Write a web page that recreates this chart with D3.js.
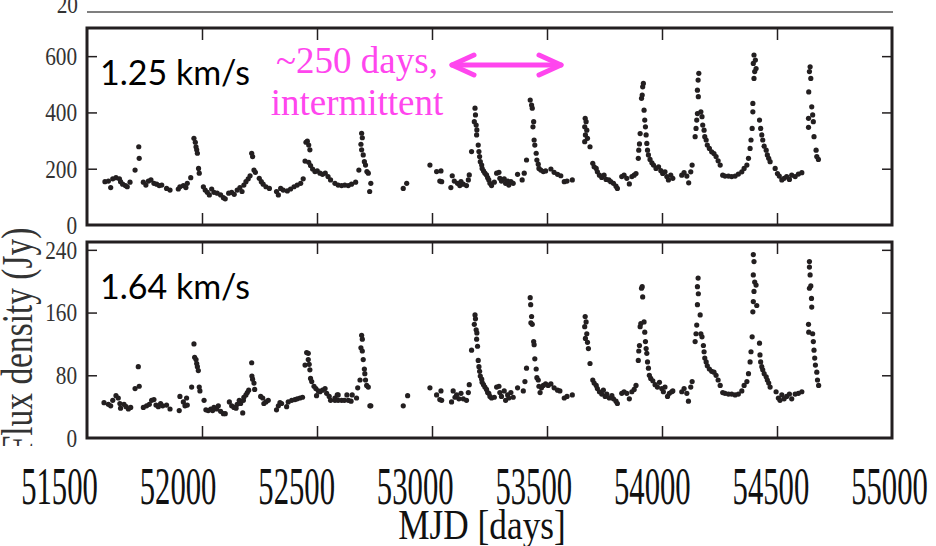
<!DOCTYPE html>
<html>
<head>
<meta charset="utf-8">
<script src="https://cdn.jsdelivr.net/npm/d3@7"></script>
<style>
  body { margin: 0; background: #fff; }
  svg { display: block; }
</style>
</head>
<body>
<div id="chart"></div>
<script>
// 1.25 km/s channel: [MJD, flux Jy]
const obs125 = [
  [51578,154],[51593,156],[51603,133],[51612,164],[51626,168],[51641,164],[51646,154],[51655,145],[51667,140],[51675,136],
  [51687,152],[51709,195],[51727,237],[51725,278],[51745,152],[51756,142],[51767,156],[51778,160],[51791,148],[51803,145],
  [51814,140],[51825,142],[51846,130],[51861,124],[51897,128],[51904,136],[51919,140],[51930,133],[51936,148],[51951,168],
  [51965,308],[51971,294],[51974,278],[51977,267],[51980,255],[51985,201],[51988,184],[52006,136],[52014,124],[52023,116],
  [52032,107],[52042,128],[52052,116],[52066,113],[52081,107],[52093,97],[52101,93],[52116,113],[52129,116],[52140,109],
  [52153,124],[52165,133],[52174,119],[52182,142],[52191,154],[52201,164],[52209,175],[52216,255],[52220,243],[52226,195],
  [52232,187],[52249,166],[52258,154],[52266,145],[52278,136],[52293,130],[52324,119],[52332,107],[52342,130],[52353,124],
  [52371,121],[52385,128],[52400,136],[52414,142],[52429,148],[52440,164],[52452,294],[52458,298],[52464,284],[52469,267],
  [52448,227],[52464,223],[52472,211],[52481,199],[52491,190],[52501,192],[52513,184],[52524,180],[52536,184],[52548,172],
  [52559,160],[52578,148],[52592,142],[52607,140],[52621,142],[52636,140],[52650,145],[52668,152],[52682,195],[52694,326],
  [52697,310],[52691,287],[52694,267],[52701,249],[52706,225],[52711,213],[52717,190],[52723,184],[52734,148],[52729,119],
  [52875,130],[52890,148],[52991,213],[53020,190],[53039,192],[53034,156],[53042,154],[53088,175],[53097,156],[53082,133],
  [53111,148],[53126,154],[53121,140],[53136,145],[53150,140],[53158,160],[53162,178],[53172,261],[53187,415],[53189,391],
  [53184,367],[53192,355],[53195,338],[53194,320],[53201,284],[53204,261],[53207,243],[53210,225],[53216,213],[53218,201],
  [53224,192],[53230,184],[53237,178],[53242,168],[53247,160],[53252,148],[53259,140],[53271,152],[53281,184],[53291,187],
  [53295,166],[53302,156],[53314,164],[53320,148],[53329,156],[53334,142],[53343,154],[53353,148],[53372,180],[53392,160],
  [53401,184],[53411,231],[53427,444],[53433,426],[53436,415],[53442,367],[53439,349],[53444,302],[53447,284],[53453,255],
  [53456,231],[53462,216],[53465,201],[53473,195],[53484,190],[53494,192],[53517,199],[53531,187],[53546,180],[53560,175],
  [53575,154],[53587,156],[53610,160],
  [53666,379],[53670,367],[53664,349],[53673,337],[53667,320],[53676,308],[53664,296],[53687,278],[53699,219],[53705,207],
  [53714,201],[53719,189],[53728,177],[53738,169],[53748,177],[53757,162],[53769,160],[53777,154],[53789,148],[53800,138],
  [53806,130],[53825,172],[53835,177],[53847,166],[53858,146],[53869,172],[53879,177],[53887,183],[53897,237],[53899,266],
  [53902,288],[53905,325],[53911,450],[53914,462],[53916,491],[53919,503],[53922,408],[53925,373],[53928,349],[53931,320],
  [53934,290],[53937,266],[53941,249],[53948,233],[53956,221],[53963,213],[53974,201],[53985,207],[53995,193],[54003,183],
  [54013,189],[54021,172],[54028,160],[54038,177],[54047,166],[54086,177],[54096,186],[54108,174],[54116,150],[54125,189],
  [54131,213],[54144,314],[54148,343],[54151,373],[54154,396],[54158,456],[54154,479],[54157,515],[54160,539],[54169,402],
  [54174,385],[54177,355],[54183,337],[54186,314],[54192,302],[54197,284],[54206,272],[54216,260],[54226,254],[54235,243],
  [54244,228],[54253,213],[54264,177],[54274,174],[54289,174],[54303,172],[54318,174],[54332,181],[54347,189],[54357,201],
  [54369,213],[54376,237],[54383,272],[54387,302],[54392,343],[54395,402],[54395,432],[54400,521],[54403,545],[54397,574],
  [54406,586],[54400,604],[54409,556],[54424,373],[54429,343],[54434,320],[54438,302],[54444,280],[54453,266],[54458,249],
  [54464,237],[54470,225],[54492,201],[54502,183],[54510,174],[54521,160],[54531,166],[54542,172],[54554,162],[54564,177],
  [54579,172],[54593,181],[54608,186],[54644,562],[54641,545],[54647,521],[54638,473],[54651,420],[54637,379],[54655,391],
  [54658,367],[54637,347],[54661,314],[54670,266],[54673,243],[54680,233]
];

// 1.64 km/s channel: [MJD, flux Jy]
const obs164 = [
  [51574,45],[51593,43],[51603,41],[51612,48],[51626,54],[51636,51],[51643,44],[51646,38],[51661,43],[51670,40],
  [51680,37],[51690,39],[51709,63],[51727,66],[51723,91],[51745,39],[51759,41],[51771,43],[51781,48],[51791,49],
  [51800,42],[51810,40],[51820,44],[51829,41],[51846,42],[51861,37],[51901,35],[51904,53],[51919,46],[51926,41],
  [51933,51],[51936,42],[51955,65],[51965,120],[51968,103],[51974,100],[51977,95],[51980,91],[51984,86],[51988,65],
  [51991,60],[52009,48],[52017,36],[52027,35],[52038,37],[52046,35],[52052,39],[52064,37],[52071,41],[52081,34],
  [52093,31],[52101,31],[52119,46],[52129,41],[52139,39],[52148,38],[52153,43],[52162,48],[52168,44],[52177,32],
  [52180,48],[52182,52],[52191,55],[52197,58],[52203,61],[52216,96],[52217,79],[52220,75],[52226,70],[52229,62],
  [52255,53],[52264,51],[52269,44],[52278,46],[52288,48],[52324,36],[52332,41],[52339,45],[52346,44],[52368,40],
  [52375,46],[52390,48],[52404,49],[52414,50],[52426,51],[52437,52],[52448,93],[52455,109],[52462,108],[52462,100],
  [52466,94],[52469,87],[52472,76],[52477,72],[52487,66],[52495,63],[52506,60],[52498,54],[52513,59],[52524,61],
  [52535,63],[52542,57],[52553,53],[52559,48],[52578,51],[52588,55],
  [52578,48],[52592,55],[52592,48],[52607,48],[52619,48],[52630,55],[52636,48],[52648,47],[52653,55],[52672,51],
  [52677,64],[52687,74],[52694,131],[52697,126],[52691,115],[52697,111],[52701,100],[52706,88],[52708,82],[52711,74],
  [52716,67],[52723,65],[52730,41],[52734,41],[52875,41],[52894,54],[52991,64],[53020,55],[53039,60],[53034,49],
  [53042,48],[53085,46],[53092,60],[53100,52],[53107,55],[53117,50],[53126,57],[53136,50],[53150,48],[53158,58],
  [53162,68],[53172,112],[53187,157],[53189,152],[53184,145],[53192,138],[53195,134],[53194,126],[53198,117],[53201,99],
  [53204,91],[53207,85],[53210,79],[53216,75],[53218,71],[53224,68],[53230,65],[53237,62],[53242,58],[53247,57],
  [53252,53],[53259,51],[53271,52],[53281,65],[53291,66],[53295,58],[53302,53],[53314,60],[53320,48],[53329,55],
  [53334,51],[53343,58],[53353,52],[53372,64],[53397,60],[53404,72],[53411,89],[53427,179],[53429,170],[53433,155],
  [53430,147],[53436,145],[53442,123],[53444,119],[53447,101],[53453,88],[53456,77],[53462,74],[53465,66],[53470,58],
  [53476,64],[53484,67],[53494,69],[53505,67],[53517,69],[53531,64],[53546,61],[53556,60],[53575,51],[53587,53],
  [53610,55],
  [53666,155],[53670,148],[53664,142],[53673,133],[53667,127],[53676,122],[53680,114],[53687,95],[53699,74],[53705,70],
  [53714,67],[53719,63],[53728,59],[53738,56],[53745,61],[53753,53],[53760,56],[53771,51],[53782,54],[53789,50],
  [53800,47],[53806,44],[53825,57],[53835,59],[53847,57],[53858,50],[53869,59],[53879,62],[53887,67],[53897,99],
  [53899,111],[53902,118],[53905,142],[53908,146],[53911,191],[53914,193],[53916,180],[53922,148],[53925,135],[53928,123],
  [53931,114],[53934,108],[53937,97],[53941,89],[53945,80],[53951,76],[53960,73],[53970,68],[53980,65],[53989,71],
  [53999,63],[54006,59],[54013,65],[54024,53],[54032,57],[54042,59],[54047,60],[54086,59],[54096,63],[54108,57],
  [54115,47],[54125,65],[54131,72],[54144,123],[54148,133],[54151,144],[54154,170],[54158,184],[54154,193],[54157,204],
  [54166,157],[54169,133],[54174,129],[54180,118],[54183,110],[54186,102],[54192,97],[54197,92],[54206,88],[54216,85],
  [54226,84],[54235,80],[54244,74],[54253,67],[54264,58],[54274,57],[54289,56],[54303,56],[54318,55],[54332,56],
  [54347,60],[54357,67],[54369,72],[54376,82],[54383,97],[54387,110],[54392,129],[54395,161],[54397,174],[54400,187],
  [54403,199],[54397,208],[54400,225],[54397,234],[54409,195],[54412,169],[54424,121],[54426,106],[54429,97],[54434,91],
  [54438,87],[54444,82],[54453,78],[54458,74],[54464,70],[54470,65],[54496,59],[54506,51],[54513,48],[54521,55],
  [54531,50],[54542,53],[54554,56],[54564,50],[54579,56],[54593,57],[54608,59],[54641,225],[54641,218],[54644,208],
  [54647,194],[54641,191],[54650,178],[54651,167],[54637,145],[54655,133],[54638,135],[54658,123],[54661,112],[54664,102],
  [54667,93],[54673,84],[54676,74],[54681,67]
];

const xDomain = [51500, 55000];
const xInnerTicks = [52000, 52500, 53000, 53500, 54000, 54500];
const xTickLabels = [51500, 52000, 52500, 53000, 53500, 54000, 54500, 55000];
const yTicks125 = [0, 200, 400, 600];
const yTicks164 = [0, 80, 160, 240];
const panelNames = ["1.25 km/s", "1.64 km/s"];
const noteLines = ["~250 days,", "intermittent"];

const W = 936, H = 546;
const left = 87, right = 892;
const ink = "#231f20";
const magenta = "#ff46ee";
const serif = "'Liberation Serif', 'Times New Roman', serif";

const svg = d3.select("#chart").append("svg")
    .attr("width", W)
    .attr("height", H);

const x = d3.scaleLinear().domain(xDomain).range([left, right]);

// remnant of the panel above
svg.append("line")
    .attr("x1", left).attr("x2", right + 1)
    .attr("y1", 12).attr("y2", 12)
    .attr("stroke", "#555").attr("stroke-width", 1.3);
svg.append("text")
    .attr("transform", "translate(78,13) scale(0.82,1)")
    .attr("text-anchor", "end")
    .attr("font-family", serif)
    .attr("font-size", 26)
    .attr("fill", "#333")
    .text("20");

function drawPanel(top, bottom, data, yMax, yTicks, name) {
    const y = d3.scaleLinear().domain([0, yMax]).range([bottom, top]);
    const g = svg.append("g");

    // inward ticks on all four sides
    g.append("g")
        .attr("transform", `translate(0,${bottom})`)
        .call(d3.axisBottom(x).tickValues(xInnerTicks).tickSize(-12).tickFormat(""));
    g.append("g")
        .attr("transform", `translate(0,${top})`)
        .call(d3.axisTop(x).tickValues(xInnerTicks).tickSize(-12).tickFormat(""));
    g.append("g")
        .attr("transform", `translate(${right},0)`)
        .call(d3.axisRight(y).tickValues(yTicks.slice(1)).tickSize(-10).tickFormat(""));
    const ya = g.append("g")
        .attr("transform", `translate(${left},0)`)
        .call(d3.axisLeft(y).tickValues(yTicks).tickSize(-10).tickPadding(12));
    ya.selectAll(".tick line").filter(d => d === 0).remove();
    ya.selectAll("text")
        .attr("font-family", serif)
        .attr("font-size", 26)
        .attr("fill", "#333")
        .attr("transform", "scale(0.82,1)");
    g.selectAll(".domain").remove();
    g.selectAll(".tick line").attr("stroke", ink).attr("stroke-width", 1.5);

    g.append("rect")
        .attr("x", left).attr("y", top)
        .attr("width", right - left).attr("height", bottom - top)
        .attr("fill", "none")
        .attr("stroke", ink)
        .attr("stroke-width", 3);

    g.selectAll(".pt")
        .data(data)
        .enter()
        .append("circle")
        .attr("class", "pt")
        .attr("cx", d => x(d[0]))
        .attr("cy", d => y(d[1]))
        .attr("r", 2.6)
        .attr("fill", ink);

    g.append("text")
        .attr("x", 100).attr("y", top + 57)
        .attr("font-family", "Lato, 'Open Sans', sans-serif")
        .attr("font-size", 34)
        .attr("fill", "#000")
        .text(name);
}

drawPanel(28, 225, obs125, 700, yTicks125, panelNames[0]);
drawPanel(242, 438, obs164, 250, yTicks164, panelNames[1]);

// magenta annotation
svg.selectAll(".note")
    .data(noteLines)
    .enter()
    .append("text")
    .attr("class", "note")
    .attr("x", 357)
    .attr("y", (d, i) => 73 + i * 42)
    .attr("text-anchor", "middle")
    .attr("font-family", serif)
    .attr("font-size", 37)
    .attr("fill", magenta)
    .text(d => d);

const arrow = svg.append("g")
    .attr("stroke", magenta)
    .attr("stroke-width", 5)
    .attr("stroke-linecap", "round")
    .attr("stroke-linejoin", "round")
    .attr("fill", "none");
arrow.append("line").attr("x1", 452).attr("x2", 561).attr("y1", 65).attr("y2", 65);
arrow.append("path").attr("d", "M474,55 L452,65 L474,75");
arrow.append("path").attr("d", "M539,55 L561,65 L539,75");

// y-axis title, clipped like the source figure
svg.append("clipPath").attr("id", "ylab")
    .append("rect").attr("x", 0).attr("y", 228).attr("width", 60).attr("height", 218);
svg.append("g")
    .attr("clip-path", "url(#ylab)")
    .append("text")
    .attr("transform", "translate(32,341) rotate(-90) scale(0.76,1)")
    .attr("text-anchor", "middle")
    .attr("font-family", serif)
    .attr("font-size", 44)
    .attr("fill", "#333")
    .text("Flux density (Jy)");

// bottom tick labels and title (pasted-in, slightly offset from the panel axis)
const xLab = d3.scaleLinear().domain(xDomain).range([59, 889]);
const xl = svg.append("g")
    .attr("transform", "translate(0,504)")
    .call(d3.axisBottom(xLab).tickValues(xTickLabels).tickSize(0).tickPadding(0).tickFormat(d3.format("d")));
xl.select(".domain").remove();
xl.selectAll("text")
    .attr("y", 0)
    .attr("dy", 0)
    .attr("font-family", serif)
    .attr("font-size", 52)
    .attr("fill", "#111")
    .attr("transform", "scale(0.59,1)");

svg.append("text")
    .attr("transform", "translate(482,539) scale(0.84,1)")
    .attr("text-anchor", "middle")
    .attr("font-family", serif)
    .attr("font-size", 42)
    .attr("fill", "#111")
    .text("MJD [days]");
</script>
</body>
</html>
